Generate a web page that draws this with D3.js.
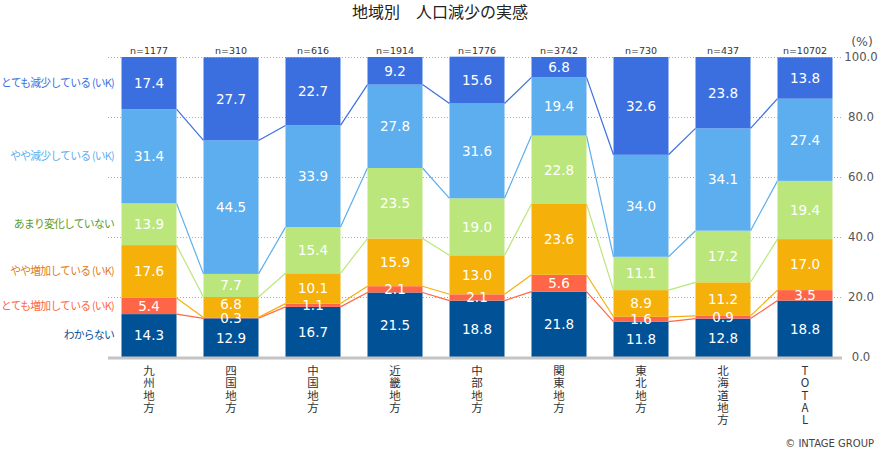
<!DOCTYPE html>
<html lang="ja">
<head>
<meta charset="UTF-8">
<title>地域別 人口減少の実感</title>
<script src="https://d3js.org/d3.v7.min.js"></script>
<style>
    html, body { margin: 0; background: #fff; }
    text { font-family: "DejaVu Sans", "Noto Sans CJK JP", sans-serif; }
    .jp { font-family: "Noto Sans CJK JP", sans-serif; }
    .cat { writing-mode: vertical-rl; text-orientation: upright; }
</style>
</head>
<body>
<div id="chart"></div>
<script>
    const regions = ["九州地方", "四国地方", "中国地方", "近畿地方", "中部地方", "関東地方", "東北地方", "北海道地方", "TOTAL"];
    const sampleSizes = [1177, 310, 616, 1914, 1776, 3742, 730, 437, 10702];
    const seriesLabels = ["わからない", "とても増加している (いK)", "やや増加している (いK)", "あまり変化していない", "やや減少している (いK)", "とても減少している (いK)"];
    const unknown = [14.3, 12.9, 16.7, 21.5, 18.8, 21.8, 11.8, 12.8, 18.8];
    const muchUp = [5.4, 0.3, 1.1, 2.1, 2.1, 5.6, 1.6, 0.9, 3.5];
    const slightUp = [17.6, 6.8, 10.1, 15.9, 13.0, 23.6, 8.9, 11.2, 17.0];
    const noChange = [13.9, 7.7, 15.4, 23.5, 19.0, 22.8, 11.1, 17.2, 19.4];
    const slightDown = [31.4, 44.5, 33.9, 27.8, 31.6, 19.4, 34.0, 34.1, 27.4];
    const muchDown = [17.4, 27.7, 22.7, 9.2, 15.6, 6.8, 32.6, 23.8, 13.8];
    const yTicks = [0, 20, 40, 60, 80, 100];

    const barColors = ["#005196", "#FF6647", "#F5B00A", "#BBE67C", "#5CAEEE", "#3B6FE0"];
    const labelColors = ["#005196", "#FF6647", "#E07B1A", "#5E9A1E", "#5CAEEE", "#3B6FE0"];

    const w = 880;
    const h = 450;
    const plotLeft = 108;
    const plotRight = 846;
    const plotTop = 57;
    const plotBottom = 357;

    const rows = regions.map((r, i) => ({
        region: r,
        vals: [unknown[i], muchUp[i], slightUp[i], noChange[i], slightDown[i], muchDown[i]]
    }));
    const keys = d3.range(seriesLabels.length);
    const stacked = d3.stack()
        .keys(keys)
        .value((d, k) => d.vals[k])(rows);

    const x = d3.scaleBand().domain(regions).range([plotLeft, plotRight]).paddingInner(27 / 82).paddingOuter(27 / 164);
    const y = d3.scaleLinear().domain([0, 100]).range([plotBottom, plotTop]);

    const svg = d3.select("#chart").append("svg")
        .attr("width", w)
        .attr("height", h)
        .style("display", "block");

    // gridlines behind the bars
    svg.append("g").selectAll("line")
        .data(yTicks.filter(t => t > 0))
        .join("line")
        .attr("x1", plotLeft)
        .attr("x2", plotRight - 4)
        .attr("y1", d => y(d) + 0.5)
        .attr("y2", d => y(d) + 0.5)
        .attr("stroke", "#aaa")
        .attr("stroke-dasharray", "1 2");

    // connector lines between neighbouring bars, on the lower edge of each series
    const line = d3.line().x(d => d[0]).y(d => d[1]);
    stacked.forEach((s, k) => {
        if (k === 0) return;
        for (let i = 0; i < s.length - 1; i++) {
            const a = x.domain()[i];
            const b = x.domain()[i + 1];
            svg.append("path")
                .attr("d", line([[x(a) + x.bandwidth(), y(s[i][0])], [x(b), y(s[i + 1][0])]]))
                .attr("fill", "none")
                .attr("stroke", barColors[k])
                .attr("stroke-width", 1.2);
        }
    });

    // bars
    const layers = svg.append("g").selectAll("g")
        .data(stacked)
        .join("g")
        .attr("fill", (d, k) => barColors[k]);

    layers.selectAll("rect")
        .data(d => d)
        .join("rect")
        .attr("x", d => x(d.data.region))
        .attr("width", x.bandwidth())
        .attr("y", d => y(d[1]))
        .attr("height", d => y(d[0]) - y(d[1]));

    // baseline
    svg.append("line")
        .attr("x1", plotLeft)
        .attr("x2", plotRight - 4)
        .attr("y1", plotBottom + 1)
        .attr("y2", plotBottom + 1)
        .attr("stroke", "#c4c4c4")
        .attr("stroke-width", 3);

    // value labels go in their own group so no bar covers a thin segment's label
    // a label sitting right above a very thin segment is nudged up to clear it
    const valueLayers = svg.append("g").selectAll("g")
        .data(stacked)
        .join("g");
    valueLayers.each(function(s, k) {
        d3.select(this).selectAll("text")
            .data(s)
            .join("text")
            .attr("x", d => x(d.data.region) + x.bandwidth() / 2)
            .attr("y", d => y((d[0] + d[1]) / 2) - (k > 0 && d.data.vals[k - 1] < 0.5 ? 3 : 0))
            .attr("dy", "0.36em")
            .attr("text-anchor", "middle")
            .attr("fill", "#fff")
            .attr("font-size", 13.5)
            .text(d => d.data.vals[k].toFixed(1));
    });

    // series names on the left, level with the first bar
    svg.append("g").selectAll("text")
        .data(stacked)
        .join("text")
        .attr("class", "jp")
        .attr("x", 114)
        .attr("y", d => y((d[0][0] + d[0][1]) / 2))
        .attr("dy", "0.36em")
        .attr("text-anchor", "end")
        .attr("font-size", 10.8)
        .attr("letter-spacing", "-0.75")
        .attr("fill", (d, k) => labelColors[k])
        .text((d, k) => seriesLabels[k]);

    // n= labels
    svg.append("g").selectAll("text")
        .data(regions)
        .join("text")
        .attr("x", d => x(d) + x.bandwidth() / 2)
        .attr("y", plotTop - 3)
        .attr("text-anchor", "middle")
        .attr("font-size", 9.5)
        .attr("fill", "#333")
        .text((d, i) => "n=" + sampleSizes[i]);

    // vertical category labels
    svg.append("g").selectAll("text")
        .data(regions)
        .join("text")
        .attr("class", "jp cat")
        .attr("x", d => x(d) + x.bandwidth() / 2)
        .attr("y", 365)
        .attr("font-size", 11.5)
        .attr("letter-spacing", "0.7")
        .attr("fill", "#333")
        .text(d => d);

    // right axis
    const yAxis = d3.axisRight(y).tickValues(yTicks).tickSize(0).tickFormat(d3.format(".1f"));
    const axisG = svg.append("g")
        .attr("transform", "translate(861,0)")
        .call(yAxis);
    axisG.select(".domain").remove();
    axisG.attr("font-family", null);
    axisG.selectAll("text")
        .attr("x", 0)
        .attr("text-anchor", "middle")
        .attr("font-size", 11.7)
        .attr("fill", "#555");

    svg.append("text")
        .attr("x", 862)
        .attr("y", 46)
        .attr("text-anchor", "middle")
        .attr("font-size", 12.5)
        .attr("fill", "#555")
        .text("(%)");

    svg.append("text")
        .attr("class", "jp")
        .attr("x", 440)
        .attr("y", 18)
        .attr("text-anchor", "middle")
        .attr("font-size", 16)
        .attr("fill", "#222")
        .text("地域別　人口減少の実感");

    svg.append("text")
        .attr("x", 874)
        .attr("y", 447)
        .attr("text-anchor", "end")
        .attr("font-size", 10)
        .attr("fill", "#444")
        .text("© INTAGE GROUP");
</script>
</body>
</html>
